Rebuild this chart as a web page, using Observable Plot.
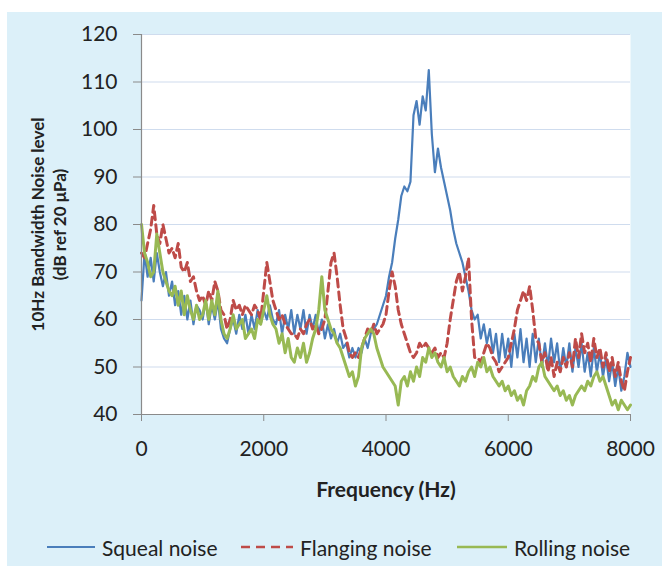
<!DOCTYPE html>
<html>
<head>
<meta charset="utf-8">
<script src="https://cdn.jsdelivr.net/npm/d3@7"></script>
<script src="https://cdn.jsdelivr.net/npm/@observablehq/plot@0.6"></script>
<style>
  html, body { margin: 0; padding: 0; background: #ffffff; }
  #box { position: absolute; left: 7px; top: 12px; width: 655px; height: 554px; background: #dcf0f9; font-family: Lato, "Open Sans", sans-serif; }
  #chart { position: absolute; left: 0; top: 0; }
  .leg { position: absolute; top: 522px; height: 26px; display: flex; align-items: center; font-size: 21px; color: #222; white-space: nowrap; }
  .leg svg { margin-right: 5px; }
</style>
</head>
<body>
<div id="box">
  <div id="chart"></div>
  <div class="leg" style="left:38px"><svg width="52" height="10"><line x1="2" y1="5" x2="50" y2="5" stroke="#4a7ebb" stroke-width="2"/></svg>Squeal noise</div>
  <div class="leg" style="left:232px"><svg width="56" height="10"><line x1="2" y1="5" x2="54" y2="5" stroke="#be4b48" stroke-width="2.6" stroke-dasharray="9,6"/></svg>Flanging noise</div>
  <div class="leg" style="left:448px"><svg width="54" height="10"><line x1="2" y1="5" x2="52" y2="5" stroke="#98b954" stroke-width="2.6"/></svg>Rolling noise</div>
</div>
<script>
// Frequency bins (Hz), 50 Hz apart, 0..8000
const freqStep = 50;
const yTicks = [40, 50, 60, 70, 80, 90, 100, 110, 120];
const xTicks = [0, 2000, 4000, 6000, 8000];

// Squeal noise (dB), one value per bin
const squeal = [
  64, 74, 69, 73, 68, 74, 70, 67, 70, 65,
  68, 63, 66, 61, 65, 60, 64, 59, 63, 62,
  60, 64, 59, 63, 60, 64, 58, 56, 55, 58,
  60, 57, 61, 58, 61, 57, 61, 58, 62, 59,
  62, 60, 63, 60, 59, 62, 57, 61, 58, 62,
  57, 61, 58, 62, 57, 61, 58, 61, 57, 60,
  56, 59, 56, 58, 55, 57, 54, 55, 52, 54,
  52, 54, 53, 56, 54, 57, 58, 59, 61, 63,
  65, 69, 72, 77, 81, 86, 88, 87, 89, 103,
  106, 101, 107, 104, 112.5, 99, 91, 96, 92, 89,
  86, 83, 79, 76, 74, 72, 69, 66, 62, 60,
  61, 56, 59, 55, 58, 53, 57, 51, 57, 52,
  56, 50, 57, 52, 58, 51, 56, 50, 57, 51,
  56, 50, 55, 50, 56, 51, 55, 49, 54, 50,
  55, 49, 54, 50, 55, 49, 53, 48, 54, 49,
  53, 48, 52, 47, 51, 46, 50, 45, 48, 53,
  50
];

// Flanging noise (dB)
const flanging = [
  74, 73, 76, 79, 84, 78, 76, 80, 77, 74,
  75, 73, 76, 71, 70, 72, 68, 69, 66, 64,
  65, 63, 66, 64, 68, 66, 62, 61, 58, 60,
  64, 62, 63, 61, 63, 62, 61, 63, 62, 60,
  66, 72, 68, 64, 62, 60, 61, 59, 58, 57,
  57, 56, 58, 57, 59, 60, 58, 59, 57, 58,
  60, 66, 72, 74, 69, 63, 58, 56, 53, 52,
  53, 52, 54, 56, 58, 57, 59, 57, 58, 59,
  61, 66, 70, 67, 62, 59, 57, 55, 53, 52,
  53, 55, 54, 55, 54, 53, 54, 52, 53, 52,
  55, 60, 64, 68, 70, 66, 69, 73, 60, 52,
  52, 51, 53, 55, 54, 52, 51, 49, 50, 51,
  52, 55, 58, 62, 64, 66, 64, 67, 62, 56,
  55, 51, 53, 49, 52, 48, 51, 49, 52, 50,
  53, 50, 56, 52, 57, 53, 55, 51, 56, 52,
  54, 50, 53, 49, 52, 48, 51, 47, 45, 49,
  52
];

// Rolling noise (dB)
const rolling = [
  80, 74, 72, 69, 70, 78, 74, 70, 68, 66,
  65, 67, 63, 66, 61, 65, 62, 60, 63, 60,
  61, 64, 60, 64, 61, 66, 60, 57, 56, 58,
  61, 58, 59, 60, 56, 57, 58, 56, 60, 59,
  62, 65, 61, 59, 58, 55, 57, 53, 56, 52,
  51, 54, 52, 55, 51, 53, 56, 58, 62, 69,
  62, 60, 58, 57, 55, 54, 52, 50, 48, 49,
  46, 48, 54, 56, 57, 58, 57, 54, 52, 50,
  49, 48, 47, 46, 42, 47, 48, 46, 49, 47,
  50, 48, 52, 51, 54, 52, 53, 51, 50, 52,
  49, 50, 48, 47, 46, 48, 47, 49, 50, 48,
  51, 50, 52, 49, 50, 48, 47, 46, 47, 45,
  46, 44, 45, 43, 44, 42, 45, 46, 48, 47,
  50, 51, 48, 47, 46, 45, 46, 44, 45, 43,
  44, 42, 44, 45, 46, 45, 47, 46, 48, 49,
  47, 48, 46, 44, 42, 43, 41, 43, 42, 41,
  42
];

const toRows = (arr) => arr.map((v, i) => ({f: i * freqStep, v}));

const chart = Plot.plot({
  width: 655,
  height: 510,
  marginLeft: 134,
  marginRight: 32,
  marginTop: 22,
  marginBottom: 108,
  style: {fontFamily: "Lato, 'Open Sans', sans-serif", fontSize: "21px", color: "#222", background: "transparent", overflow: "visible"},
  x: {domain: [0, 8000], axis: null},
  y: {domain: [40, 120], axis: null},
  marks: [
    Plot.frame({fill: "white", stroke: null}),
    Plot.gridY(yTicks.slice(1), {stroke: "#cfdcee", strokeOpacity: 1, strokeWidth: 1.2}),
    Plot.lineY(toRows(squeal), {x: "f", y: "v", stroke: "#4a7ebb", strokeWidth: 2.2, strokeLinejoin: "round"}),
    Plot.lineY(toRows(flanging), {x: "f", y: "v", stroke: "#be4b48", strokeWidth: 3, strokeDasharray: "8,5"}),
    Plot.lineY(toRows(rolling), {x: "f", y: "v", stroke: "#98b954", strokeWidth: 3, strokeLinejoin: "round"}),
    Plot.ruleX([0], {stroke: "#8a8a8a", strokeWidth: 1.2}),
    Plot.ruleY([40], {stroke: "#8a8a8a", strokeWidth: 1.2}),
    Plot.axisY({ticks: yTicks, tickSize: 8, tickPadding: 16, tickFormat: d => String(d), stroke: "#8a8a8a", fill: "#222", fontSize: 21, label: null}),
    Plot.axisX({ticks: xTicks, tickSize: 7, tickPadding: 20, tickFormat: d => String(d), stroke: "#8a8a8a", fill: "#222", fontSize: 21, label: null}),
    Plot.text(["Frequency (Hz)"], {frameAnchor: "bottom", dy: 76, text: d => d, fontWeight: "bold", fontSize: 21, fill: "#222", lineAnchor: "middle", textAnchor: "middle"}),
    Plot.text(["10Hz Bandwidth Noise level\n(dB ref 20 μPa)"], {frameAnchor: "left", dx: -94, text: d => d, rotate: -90, fontWeight: "bold", fontSize: 17, lineHeight: 1.3, fill: "#222", lineAnchor: "middle", textAnchor: "middle"})
  ]
});
document.getElementById("chart").appendChild(chart);
</script>
</body>
</html>
